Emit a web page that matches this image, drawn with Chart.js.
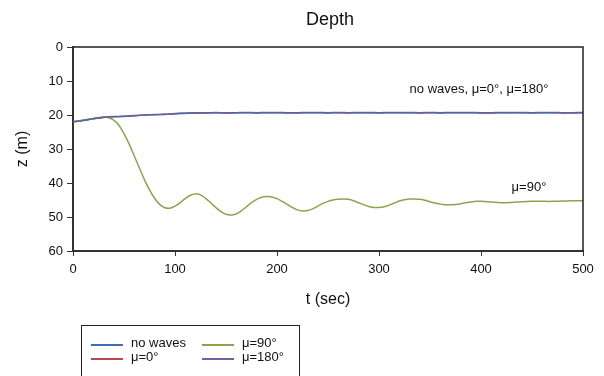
<!DOCTYPE html>
<html>
<head>
<meta charset="utf-8">
<script src="https://cdn.jsdelivr.net/npm/chart.js@4"></script>
<style>
  body { margin: 0; background: #fff; }
  #wrap { position: relative; width: 604px; height: 376px; overflow: hidden; }
  #legend {
    position: absolute; left: 81px; top: 325px; width: 217px; height: 70px;
    border: 1px solid #222; font: 13px "Liberation Sans", Arial, sans-serif; color: #111;
  }
  .item { position: absolute; height: 14px; line-height: 14px; white-space: nowrap; }
  .item i { position: absolute; left: 0; top: 7px; width: 32px; height: 1.5px; }
  .item span { position: absolute; left: 40px; top: -1px; }
</style>
</head>
<body>
<div id="wrap">
  <canvas id="chart"></canvas>
  <div id="legend"></div>
</div>
<script>
// ---- data ----
const timeFlat = [0, 10, 20, 30, 40, 50, 60, 70, 80, 90,
  100, 110, 120, 130, 140, 150, 160, 170, 180, 190,
  200, 210, 220, 230, 240, 250, 260, 270, 280, 290,
  300, 310, 320, 330, 340, 350, 360, 370, 380, 390,
  400, 410, 420, 430, 440, 450, 460, 470, 480, 490, 500];

const noWaves = [22.0, 21.6, 21.1, 20.7, 20.5, 20.4, 20.2, 20.0, 19.9, 19.8,
  19.6, 19.5, 19.4, 19.4, 19.3, 19.4, 19.3, 19.3, 19.3, 19.3,
  19.3, 19.4, 19.3, 19.3, 19.3, 19.3, 19.3, 19.4, 19.3, 19.3,
  19.3, 19.3, 19.3, 19.3, 19.4, 19.3, 19.3, 19.3, 19.3, 19.3,
  19.3, 19.4, 19.3, 19.3, 19.3, 19.3, 19.3, 19.3, 19.4, 19.3, 19.3];

const mu0 = [22.0, 21.6, 21.1, 20.7, 20.5, 20.4, 20.2, 20.0, 19.9, 19.8,
  19.6, 19.5, 19.4, 19.4, 19.3, 19.4, 19.3, 19.3, 19.4, 19.3,
  19.3, 19.3, 19.4, 19.3, 19.3, 19.4, 19.3, 19.3, 19.3, 19.3,
  19.4, 19.3, 19.3, 19.3, 19.3, 19.3, 19.4, 19.3, 19.3, 19.3,
  19.4, 19.3, 19.3, 19.3, 19.3, 19.4, 19.3, 19.3, 19.3, 19.4, 19.3];

const mu180 = [22.0, 21.6, 21.1, 20.7, 20.5, 20.4, 20.2, 20.0, 19.9, 19.8,
  19.6, 19.5, 19.4, 19.4, 19.3, 19.4, 19.35, 19.3, 19.35, 19.3,
  19.3, 19.35, 19.35, 19.3, 19.3, 19.35, 19.3, 19.35, 19.3, 19.3,
  19.35, 19.3, 19.3, 19.3, 19.35, 19.3, 19.35, 19.3, 19.3, 19.3,
  19.35, 19.35, 19.3, 19.3, 19.3, 19.35, 19.3, 19.3, 19.35, 19.35, 19.3];

const timeGreen = [0, 10, 20, 30, 35, 40, 45, 50, 55, 60,
  65, 70, 75, 80, 85, 90, 95, 100, 105, 110,
  115, 120, 125, 130, 135, 140, 145, 150, 155, 160,
  165, 170, 175, 180, 185, 190, 195, 200, 205, 210,
  215, 220, 225, 230, 235, 240, 245, 250, 255, 260,
  265, 270, 275, 280, 285, 290, 295, 300, 305, 310,
  315, 320, 325, 330, 335, 340, 345, 350, 355, 360,
  365, 370, 375, 380, 385, 390, 395, 400, 410, 420,
  430, 440, 450, 460, 470, 480, 490, 500];

const mu90 = [22.0, 21.5, 21.0, 20.6, 20.8, 21.5, 23.0, 25.5, 28.5, 32.0,
  35.5, 39.0, 42.0, 44.5, 46.3, 47.3, 47.4, 46.8, 45.8, 44.6,
  43.6, 43.2, 43.5, 44.5, 45.8, 47.2, 48.4, 49.2, 49.4, 49.1,
  48.2, 47.0, 45.8, 44.8, 44.2, 44.0, 44.1, 44.6, 45.4, 46.3,
  47.2, 47.9, 48.2, 48.1, 47.6, 46.8, 46.0, 45.4, 45.0, 44.8,
  44.7, 44.8, 45.2, 45.8, 46.4, 46.9, 47.2, 47.2, 47.0, 46.5,
  45.9, 45.3, 44.9, 44.7, 44.7, 44.8, 45.1, 45.5, 45.9, 46.2,
  46.4, 46.4, 46.3, 46.1, 45.8, 45.6, 45.4, 45.4, 45.6, 45.8,
  45.7, 45.5, 45.4, 45.4, 45.4, 45.3, 45.2, 45.2];

const seriesNames = ['no waves', 'μ=0°', 'μ=90°', 'μ=180°'];
const seriesColors = ['#3f6fb3', '#b8484a', '#8aa54f', '#7a5ea6'];
const seriesWidths = [1.1, 1.1, 1.5, 1.7];

const FONT = '"Liberation Sans", Arial, sans-serif';

const pts = (xs, ys) => xs.map((t, i) => ({ x: t, y: ys[i] }));

// title, texts and the closed box around the plot
const extras = {
  id: 'extras',
  afterDatasetsDraw(chart) {
    const { ctx, chartArea: a } = chart;
    ctx.save();
    ctx.strokeStyle = '#222';
    ctx.lineWidth = 1.5;
    ctx.beginPath();
    ctx.moveTo(a.left, a.top);
    ctx.lineTo(a.right, a.top);
    ctx.lineTo(a.right, a.bottom);
    ctx.stroke();

    ctx.fillStyle = '#111';
    ctx.textBaseline = 'middle';
    ctx.textAlign = 'center';
    ctx.font = '18px ' + FONT;
    ctx.fillText('Depth', (a.left + a.right) / 2 + 2, 20);

    const xs = chart.scales.x, ys = chart.scales.y;
    ctx.font = '13px ' + FONT;
    ctx.textAlign = 'left';
    ctx.fillText('no waves, μ=0°, μ=180°', xs.getPixelForValue(330), ys.getPixelForValue(12.6));
    ctx.fillText('μ=90°', xs.getPixelForValue(430), ys.getPixelForValue(41.4));
    ctx.restore();
  }
};

const sets = [pts(timeFlat, noWaves), pts(timeFlat, mu0), pts(timeGreen, mu90), pts(timeFlat, mu180)];

new Chart(document.getElementById('chart'), {
  type: 'line',
  data: {
    datasets: sets.map((d, i) => ({
      label: seriesNames[i],
      data: d,
      borderColor: seriesColors[i],
      borderWidth: seriesWidths[i]
    }))
  },
  options: {
    responsive: true,
    maintainAspectRatio: false,
    animation: false,
    elements: {
      point: { radius: 0 },
      line: { tension: 0.35, fill: false }
    },
    layout: { padding: { left: 0, right: 21, top: 47, bottom: 66.6 } },
    plugins: {
      legend: { display: false },
      tooltip: { enabled: false },
      title: { display: false }
    },
    scales: {
      x: {
        type: 'linear',
        min: 0,
        max: 500,
        afterFit: (s) => { s.height = 58.4; },
        ticks: { stepSize: 100, color: '#111', padding: 6, maxRotation: 0,
          font: { family: FONT, size: 13 } },
        grid: { drawOnChartArea: false, drawTicks: true, tickLength: 5, color: '#333' },
        border: { color: '#333', width: 2 },
        title: { display: true, text: 't (sec)', color: '#111',
          font: { family: FONT, size: 16 }, padding: { top: 0, bottom: 0 } }
      },
      y: {
        min: 0,
        max: 60,
        reverse: true,
        afterFit: (s) => { s.width = 73; },
        ticks: { stepSize: 10, color: '#111', padding: 4,
          font: { family: FONT, size: 13 } },
        grid: { drawOnChartArea: false, drawTicks: true, tickLength: 6, color: '#333' },
        border: { color: '#333', width: 2 },
        title: { display: true, text: 'z (m)', color: '#111',
          font: { family: FONT, size: 16 }, padding: { top: 12.6, bottom: 0 } }
      }
    }
  },
  plugins: [extras]
});

// legend box under the chart
const legend = document.getElementById('legend');
const slots = [[9, 11], [9, 25], [120, 11], [120, 25]];
seriesNames.forEach((name, i) => {
  const el = document.createElement('div');
  el.className = 'item';
  el.style.left = slots[i][0] + 'px';
  el.style.top = slots[i][1] + 'px';
  el.innerHTML = '<i style="background:' + seriesColors[i] + '"></i><span>' + name + '</span>';
  legend.appendChild(el);
});
</script>
</body>
</html>
